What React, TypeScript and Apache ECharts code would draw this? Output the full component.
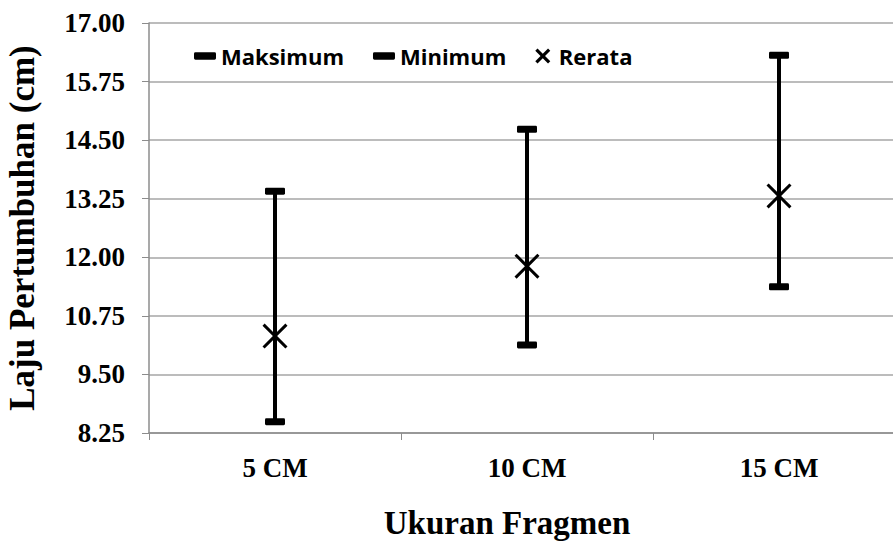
import React, { useEffect, useRef } from "react";
import * as echarts from "echarts";

const categories = ["5 CM", "10 CM", "15 CM"];
const maksimum = [13.41, 14.73, 16.31];
const minimum = [8.49, 10.13, 11.37];
const rerata = [10.32, 11.81, 13.31];
const yMin = 8.25;
const yMax = 17.0;
const yStep = 1.25;

const capPath =
  "path://M2,0H28A2,2 0 0 1 30,2V8A2,2 0 0 1 28,10H2A2,2 0 0 1 0,8V2A2,2 0 0 1 2,0Z";
const xPath =
  "path://M0,8.5L8.5,0L50,41.5L91.5,0L100,8.5L58.5,50L100,91.5L91.5,100L50,58.5L8.5,100L0,91.5L41.5,50Z";
const xLegendPath =
  "path://M0,15L15,0L50,35L85,0L100,15L65,50L100,85L85,100L50,65L15,100L0,85L35,50Z";

export default function App() {
  const ref = useRef<HTMLDivElement>(null);
  useEffect(() => {
    if (!ref.current) return;
    const chart = echarts.init(ref.current, null, { renderer: "svg" });
    const serif = "'Liberation Serif', 'Times New Roman', serif";
    const rangeData = categories.map((_, i) => [i, minimum[i], maksimum[i]]);
    chart.setOption({
      animation: false,
      backgroundColor: "#ffffff",
      grid: {
        left: 149,
        right: -12,
        top: 23,
        bottom: 109,
        containLabel: false,
        outerBoundsMode: "none",
      },
      legend: {
        left: 189,
        top: 40,
        itemWidth: 22,
        itemHeight: 15,
        itemGap: 29,
        itemStyle: { opacity: 1 },
        textStyle: {
          fontFamily: "'Open Sans', 'Noto Sans', sans-serif",
          fontWeight: "bold",
          fontSize: 22,
          color: "#000",
        },
        data: [
          { name: "Maksimum", icon: capPath },
          { name: "Minimum", icon: capPath },
          { name: "Rerata", icon: xLegendPath },
        ],
      },
      xAxis: {
        type: "category",
        data: categories,
        boundaryGap: true,
        name: "Ukuran Fragmen",
        nameLocation: "middle",
        nameGap: 73,
        nameTextStyle: {
          fontFamily: serif,
          fontWeight: "bold",
          fontSize: 33,
          color: "#000",
          padding: [0, 40, 0, 0],
        },
        axisLine: { lineStyle: { color: "#8c8c8c", width: 1.5 } },
        axisTick: { show: true, length: 7, lineStyle: { color: "#8c8c8c" } },
        axisLabel: { fontFamily: serif, fontWeight: "bold", fontSize: 27, color: "#000", margin: 21 },
      },
      yAxis: {
        type: "value",
        min: yMin,
        max: yMax,
        interval: yStep,
        name: "Laju Pertumbuhan (cm)",
        nameLocation: "middle",
        nameGap: 109,
        nameTextStyle: { fontFamily: serif, fontWeight: "bold", fontSize: 35, color: "#000" },
        axisLine: { show: true, lineStyle: { color: "#8c8c8c", width: 1.5 } },
        axisTick: { show: true, length: 7, lineStyle: { color: "#8c8c8c" } },
        splitLine: { show: true, lineStyle: { color: "#a6a6a6", width: 1.5 } },
        axisLabel: {
          fontFamily: serif,
          fontWeight: "bold",
          fontSize: 27,
          color: "#000",
          margin: 24,
          formatter: (v: number) => v.toFixed(2),
        },
      },
      series: [
        {
          type: "custom",
          name: "range",
          data: rangeData,
          encode: { x: 0, y: [1, 2] },
          z: 1,
          silent: true,
          renderItem: (_params: any, api: any) => {
            const lo = api.coord([api.value(0), api.value(1)]);
            const hi = api.coord([api.value(0), api.value(2)]);
            return {
              type: "line",
              shape: { x1: lo[0], y1: lo[1], x2: hi[0], y2: hi[1] },
              style: { stroke: "#000", lineWidth: 4 },
            };
          },
        },
        {
          type: "scatter",
          name: "Maksimum",
          data: maksimum,
          symbol: capPath,
          symbolSize: [20, 7],
          symbolKeepAspect: false,
          itemStyle: { color: "#000", opacity: 1 },
          z: 3,
        },
        {
          type: "scatter",
          name: "Minimum",
          data: minimum,
          symbol: capPath,
          symbolSize: [20, 7],
          symbolKeepAspect: false,
          itemStyle: { color: "#000", opacity: 1 },
          z: 3,
        },
        {
          type: "scatter",
          name: "Rerata",
          data: rerata,
          symbol: xPath,
          symbolSize: 25,
          itemStyle: { color: "#000", opacity: 1 },
          z: 4,
        },
      ],
    });
    return () => chart.dispose();
  }, []);
  return (
    <div
      ref={ref}
      style={{ position: "absolute", left: 0, top: 0, width: 893, height: 542, background: "#fff" }}
    />
  );
}
